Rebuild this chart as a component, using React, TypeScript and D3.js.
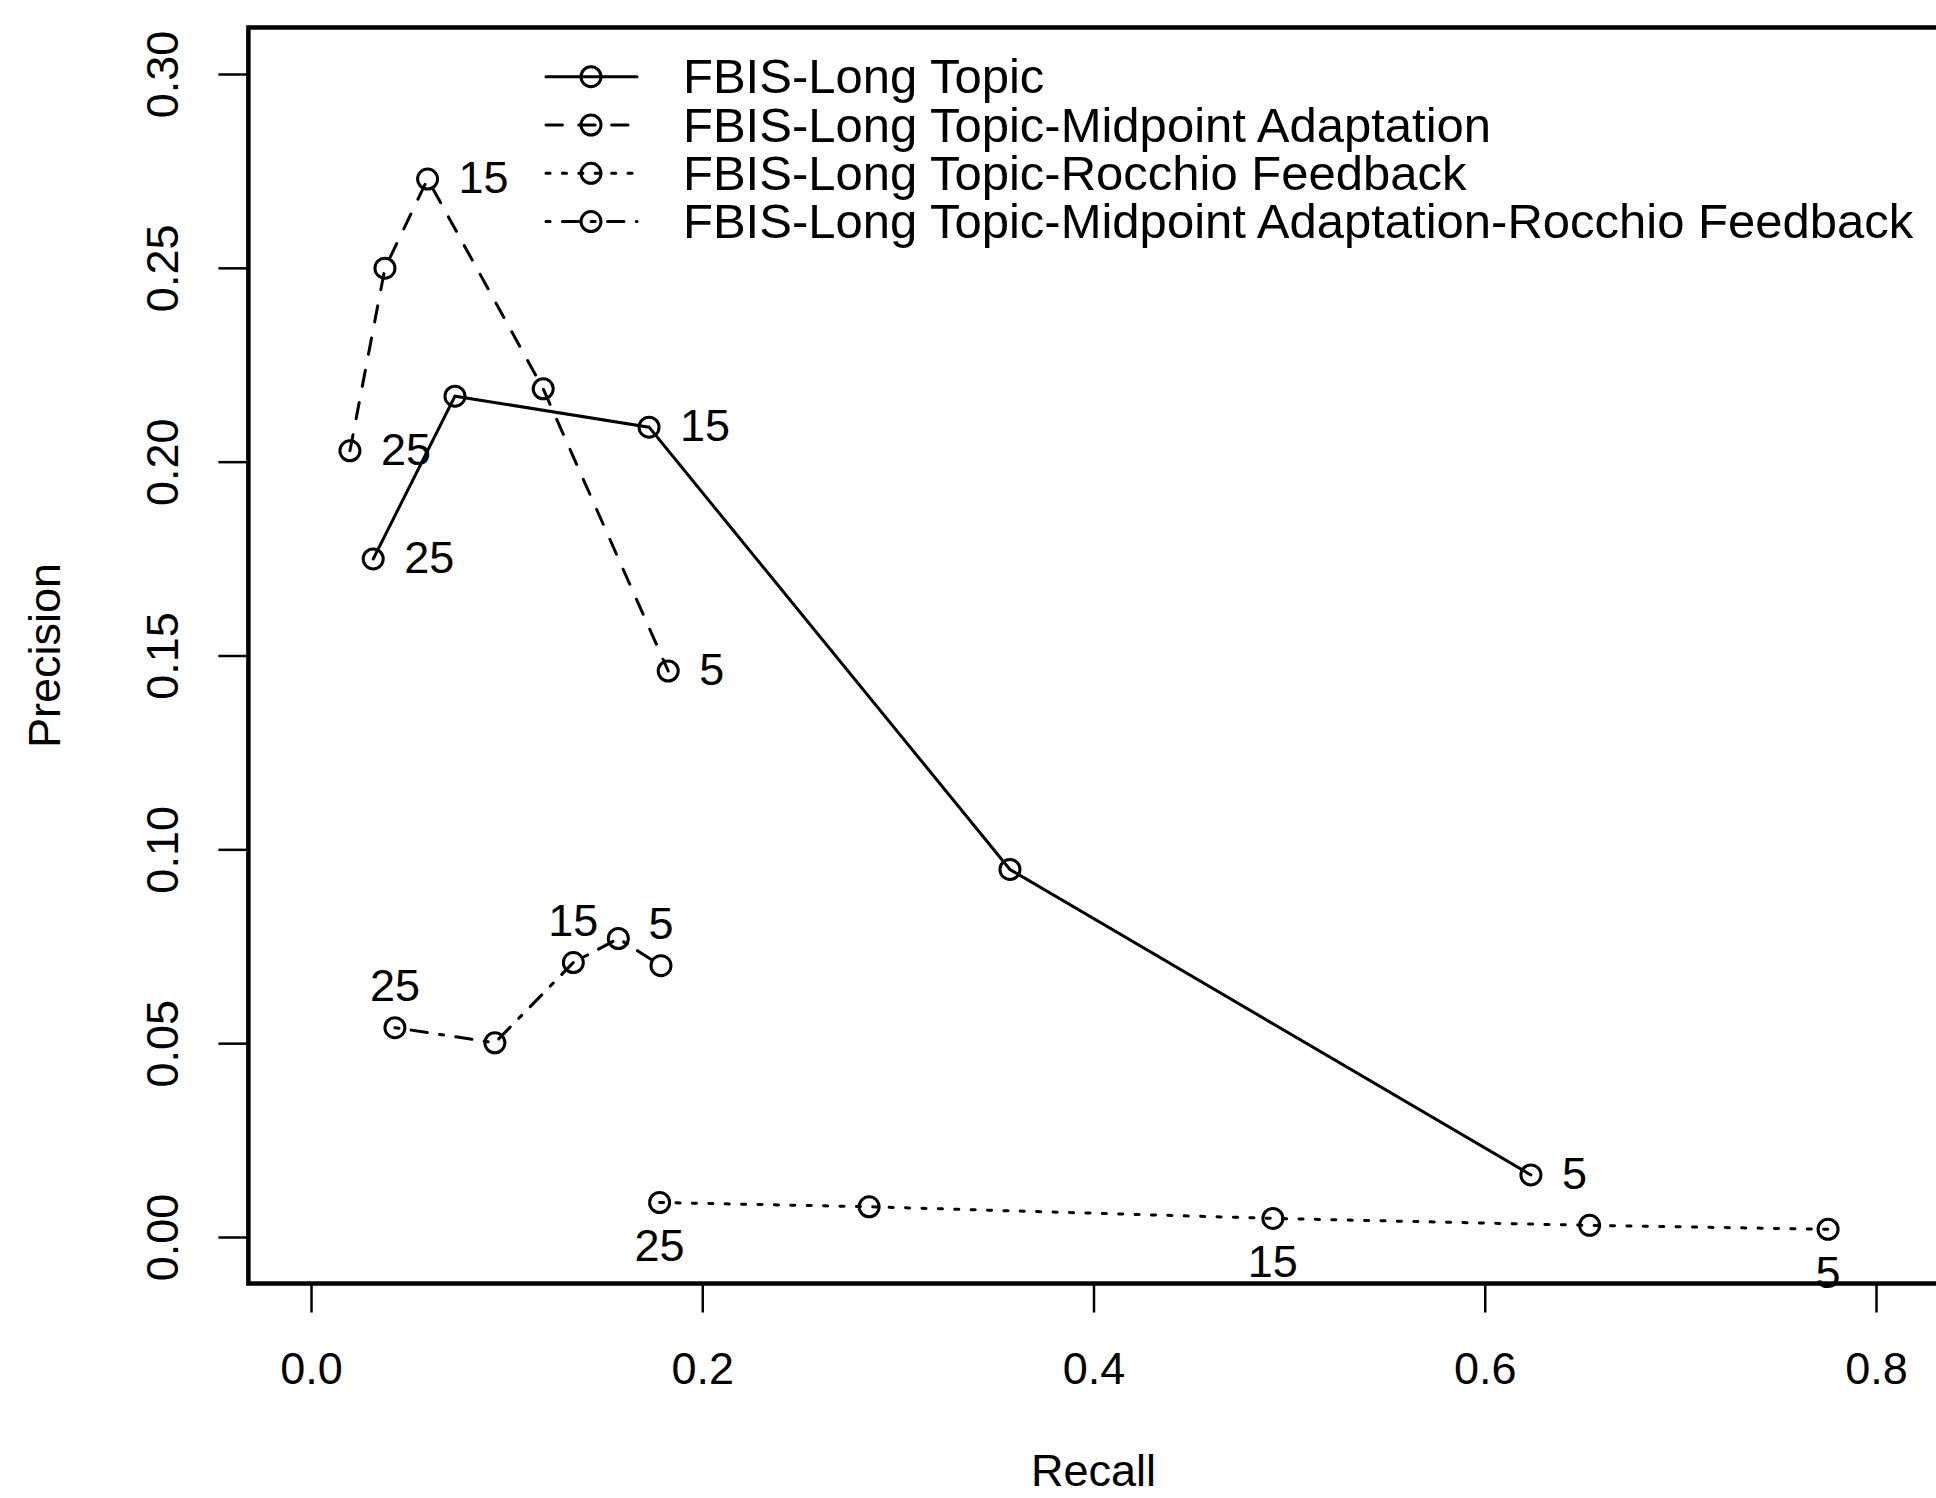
import React, { useEffect, useRef } from 'react';
import * as d3 from 'd3';

// series names (legend order)
const seriesNames = [
  'FBIS-Long Topic',
  'FBIS-Long Topic-Midpoint Adaptation',
  'FBIS-Long Topic-Rocchio Feedback',
  'FBIS-Long Topic-Midpoint Adaptation-Rocchio Feedback',
];

// recall / precision values
const longTopicRecall = [0.0318, 0.0736, 0.1728, 0.3573, 0.6236];
const longTopicPrecision = [0.1749, 0.2169, 0.2089, 0.0948, 0.016];

const midpointRecall = [0.0199, 0.0378, 0.0596, 0.1187, 0.1826];
const midpointPrecision = [0.2028, 0.2499, 0.2729, 0.2188, 0.146];

const rocchioRecall = [0.1782, 0.2853, 0.4917, 0.6536, 0.7755];
const rocchioPrecision = [0.0089, 0.0078, 0.0048, 0.003, 0.002];

const midRocchioRecall = [0.0429, 0.094, 0.1341, 0.1571, 0.1789];
const midRocchioPrecision = [0.054, 0.0501, 0.0708, 0.077, 0.07];

// number of documents annotated next to some points
const docLabels = ['25', '', '15', '', '5'];
const labelSides = ['right', 'right', 'below', 'above'];

const xTicks = [0, 0.2, 0.4, 0.6, 0.8];
const yTicks = [0, 0.05, 0.1, 0.15, 0.2, 0.25, 0.3];

const W = 1936;
const H = 1498;
const FONT = '"Liberation Sans", Arial, Helvetica, sans-serif';
const dashes = [null, '16.4,16.4', '4.1,12.3', '4.1,12.3,16.4,12.3'];

const App = () => {
  const svgRef = useRef(null);

  useEffect(() => {
    const svg = d3.select(svgRef.current);
    svg.selectAll('*').remove();

    const x = d3.scaleLinear().domain([0, 0.8]).range([311, 1876]);
    const y = d3.scaleLinear().domain([0, 0.3]).range([1237, 74]);

    const series = [
      [longTopicRecall, longTopicPrecision],
      [midpointRecall, midpointPrecision],
      [rocchioRecall, rocchioPrecision],
      [midRocchioRecall, midRocchioPrecision],
    ].map(([r, p], i) => ({
      name: seriesNames[i],
      side: labelSides[i],
      dash: dashes[i],
      values: r.map((v, j) => ({ recall: v, precision: p[j], label: docLabels[j] })),
    }));

    // plot box (R style 4% padding)
    const x0 = x(-0.032), x1 = x(0.832);
    const y0 = y(0.312), y1 = y(-0.012);
    svg.append('rect')
      .attr('x', x0).attr('y', y0)
      .attr('width', x1 - x0).attr('height', y1 - y0)
      .attr('fill', 'none')
      .attr('stroke', '#000')
      .attr('stroke-width', 4.5);

    // X axis
    const xAxis = svg.append('g')
      .attr('transform', `translate(0,${y1})`)
      .call(d3.axisBottom(x).tickValues(xTicks).tickSize(29).tickSizeOuter(0)
        .tickFormat(d3.format('.1f')));
    xAxis.select('.domain').remove();
    xAxis.selectAll('line').attr('stroke', '#000').attr('stroke-width', 2.5);
    xAxis.selectAll('text')
      .attr('y', 100).attr('dy', 0)
      .attr('fill', '#000')
      .style('font-family', FONT)
      .style('font-size', '45px');

    // Y axis with rotated labels
    const yAxis = svg.append('g')
      .attr('transform', `translate(${x0},0)`)
      .call(d3.axisLeft(y).tickValues(yTicks).tickSize(30).tickSizeOuter(0)
        .tickFormat(d3.format('.2f')));
    yAxis.select('.domain').remove();
    yAxis.selectAll('line').attr('stroke', '#000').attr('stroke-width', 2.5);
    yAxis.selectAll('text')
      .attr('x', 0).attr('y', -70).attr('dy', 0)
      .attr('text-anchor', 'middle')
      .attr('transform', 'rotate(-90)')
      .attr('fill', '#000')
      .style('font-family', FONT)
      .style('font-size', '45px');

    // axis titles
    svg.append('text')
      .attr('x', (x0 + x1) / 2).attr('y', 1486)
      .attr('text-anchor', 'middle')
      .style('font-family', FONT).style('font-size', '45px')
      .text('Recall');
    svg.append('text')
      .attr('transform', `translate(60,${(y0 + y1) / 2}) rotate(-90)`)
      .attr('text-anchor', 'middle')
      .style('font-family', FONT).style('font-size', '45px')
      .text('Precision');

    const line = d3.line()
      .x(d => x(d.recall))
      .y(d => y(d.precision));

    series.forEach(s => {
      svg.append('path')
        .datum(s.values)
        .attr('fill', 'none')
        .attr('stroke', '#000')
        .attr('stroke-width', 3)
        .attr('stroke-linecap', 'round')
        .attr('stroke-dasharray', s.dash)
        .attr('d', line);

      svg.selectAll(null)
        .data(s.values)
        .enter()
        .append('circle')
        .attr('cx', d => x(d.recall))
        .attr('cy', d => y(d.precision))
        .attr('r', 10)
        .attr('fill', 'none')
        .attr('stroke', '#000')
        .attr('stroke-width', 3);

      svg.selectAll(null)
        .data(s.values.filter(d => d.label))
        .enter()
        .append('text')
        .attr('x', d => x(d.recall) + (s.side === 'right' ? 31 : 0))
        .attr('y', d => {
          const py = y(d.precision);
          if (s.side === 'above') return py - 43 + 16;
          if (s.side === 'below') return py + 43 + 16;
          return py + 14;
        })
        .attr('text-anchor', s.side === 'right' ? 'start' : 'middle')
        .style('font-family', FONT)
        .style('font-size', '45px')
        .text(d => d.label);
    });

    // legend
    const legend = svg.append('g');
    series.forEach((s, i) => {
      const cy = 76.7 + i * 48.3;
      legend.append('line')
        .attr('x1', 546).attr('x2', 637)
        .attr('y1', cy).attr('y2', cy)
        .attr('stroke', '#000')
        .attr('stroke-width', 3)
        .attr('stroke-linecap', 'round')
        .attr('stroke-dasharray', s.dash);
      legend.append('circle')
        .attr('cx', 591).attr('cy', cy).attr('r', 10)
        .attr('fill', 'none')
        .attr('stroke', '#000')
        .attr('stroke-width', 3);
      legend.append('text')
        .attr('x', 683).attr('y', cy + 16.5)
        .style('font-family', FONT)
        .style('font-size', '49px')
        .text(s.name);
    });
  }, []);

  return (
    <svg
      ref={svgRef}
      width={W}
      height={H}
      style={{ position: 'absolute', left: 0, top: 0, background: '#fff', display: 'block' }}
    />
  );
};

export default App;
